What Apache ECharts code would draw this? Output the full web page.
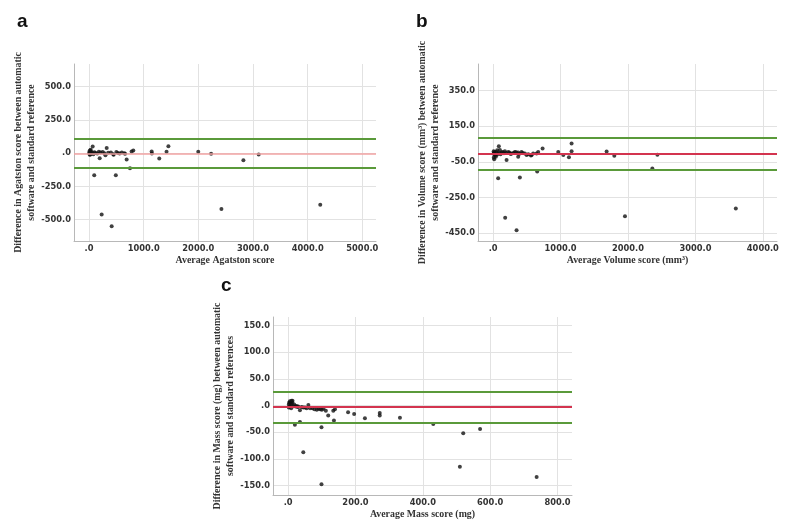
<!DOCTYPE html>
<html><head><meta charset="utf-8">
<script src="https://cdn.jsdelivr.net/npm/echarts@6/dist/echarts.min.js"></script>
<style>html,body{margin:0;padding:0;background:#fff}#c{width:800px;height:525px}</style>
</head><body><div id="c"></div>
<script>
// Panel a: Agatston
var agatstonAvg = [5,10,15,20,25,35,45,60,80,100,120,150,180,210,250,280,300,350,400,450,500,530,560,600,660,12,30,8,
  67,95,195,231,323,414,444,490,645,688,749,779,810,1146,1150,1285,1418,1452,1998,2234,2422,2824,3104,4230];
var agatstonDiff = [8,-5,20,3,-10,12,0,5,-8,6,2,-3,10,5,8,0,-15,3,5,-12,8,2,-3,5,-5,-12,25,0,
  50,-166,-38,-460,38,-550,-8,-166,0,-48,-113,12,20,12,-3,-40,10,52,10,-5,-419,-53,-10,-387];
var agatstonLines = {mean: -1, upper: 107, lower: -110};

// Panel b: Volume
var volumeAvg = [25,15,40,50,100,125,174,199,223,273,322,371,371,421,470,496,570,594,644,668,
  5,8,10,12,20,30,55,60,70,90,110,140,160,190,240,260,300,340,390,440,520,560,
  84,74,178,347,396,653,733,965,1040,1124,1163,1163,1683,1797,1955,2361,2436,3599];
var volumeDiff = [-12,-35,-22,6,16,3,10,-40,6,-3,6,3,-22,6,-3,-12,-12,-3,-3,6,
  -5,10,-25,0,5,-8,-10,15,-5,0,-8,5,-2,0,2,-6,0,4,-5,0,-8,-15,
  38,-142,-364,-435,-138,-105,25,6,-12,-24,53,10,8,-16,-356,-87,-10,-313];
var volumeLines = {mean: -7, upper: 83, lower: -93};

// Panel c: Mass
var massAvg = [2,4,6,8,10,12,15,18,22,25,28,30,40,45,50,55,65,72,78,85,90,95,100,105,2,5,10,60,9,
  3,13,20,35,35,45,99,99,112,119,134,136,139,178,196,228,272,272,332,431,510,520,570,738];
var massDiff = [2,-2,5,0,3,6,-1,2,-2,-1,-3,-2,-3,-4,-4,-5,-5,-5,-7,-8,-6,-7,-8,-6,-4,8,9,1,-5,
  5,9,-36,-31,-9,-88,-41,-148,-10,-19,-10,-28,-7,-12.5,-16,-24,-14,-19,-23,-35,-115,-52,-44,-134];
var massLines = {mean: -3.1, upper: 25.6, lower: -33.1};

var xTicksA = [0,1000,2000,3000,4000,5000];
var yTicksA = [-500,-250,0,250,500];
var xTicksB = [0,1000,2000,3000,4000];
var yTicksB = [-450,-250,-50,150,350];
var xTicksC = [0,200,400,600,800];
var yTicksC = [-150,-100,-50,0,50,100,150];

function zip(a,b){return a.map(function(v,i){return [v,b[i]];});}
function fmt(v){return v===0?'.0':v.toFixed(1);}

var labelFont = {fontFamily:'DejaVu Sans', fontWeight:'bold', fontSize:8.3, color:'#333'};
var nameFont = {fontFamily:'Liberation Serif', fontWeight:'bold', fontSize:9.9, color:'#333', lineHeight:12.5};

function xAxis(idx, min, max, ticks, name, gap){
  return {gridIndex: idx, type:'value', min:min, max:max,
    name:name, nameLocation:'middle', nameGap:gap, nameTextStyle:nameFont,
    axisLine:{show:true, onZero:false, lineStyle:{color:'#b8b8b8', width:1}},
    axisTick:{show:false, customValues:ticks},
    axisLabel:Object.assign({customValues:ticks, formatter:fmt, margin:4}, labelFont),
    splitLine:{show:true, lineStyle:{color:'#e2e2e2', width:1}}};
}
function yAxis(idx, min, max, ticks, name, gap){
  return {gridIndex: idx, type:'value', min:min, max:max,
    name:name, nameLocation:'middle', nameGap:gap, nameRotate:90, nameTextStyle:nameFont,
    axisLine:{show:true, onZero:false, lineStyle:{color:'#b8b8b8', width:1}},
    axisTick:{show:false, customValues:ticks},
    axisLabel:Object.assign({customValues:ticks, formatter:fmt, margin:3}, labelFont),
    splitLine:{show:true, lineStyle:{color:'#e2e2e2', width:1}}};
}
function series(idx, data, lines, meanColor, meanWidth){
  return {type:'scatter', xAxisIndex:idx, yAxisIndex:idx, data:data,
    symbolSize:4, itemStyle:{color:'#111'}, silent:true,
    markLine:{silent:true, symbol:'none', label:{show:false}, animation:false,
      data:[
        {yAxis:lines.upper, lineStyle:{color:'#5a9a3a', width:2, type:'solid'}},
        {yAxis:lines.lower, lineStyle:{color:'#5a9a3a', width:2, type:'solid'}},
        {yAxis:lines.mean, lineStyle:{color:meanColor, width:meanWidth, type:'solid'}}
      ]}};
}

var chart = echarts.init(document.getElementById('c'), null, {renderer:'canvas'});
chart.setOption({
  animation:false,
  backgroundColor:'#fff',
  grid:[
    {left:74, top:64, width:302, height:177},
    {left:478, top:64, width:299, height:177},
    {left:273, top:317, width:299, height:178}
  ],
  xAxis:[
    xAxis(0,-275,5250,xTicksA,'Average Agatston score',11),
    xAxis(1,-225,4210,xTicksB,'Average Volume score (mm³)',11),
    xAxis(2,-45,843,xTicksC,'Average Mass score (mg)',9)
  ],
  yAxis:[
    yAxis(0,-660,670,yTicksA,'Difference in Agatston score between automatic\nsoftware and standard reference',35),
    yAxis(1,-495,500,yTicksB,'Difference in Volume score (mm³) between automatic\nsoftware and standard reference',35),
    yAxis(2,-168,166,yTicksC,'Difference in Mass score (mg) between automatic\nsoftware and standard references',27)
  ],
  series:[
    series(0, zip(agatstonAvg, agatstonDiff), agatstonLines, '#f2a3a3', 1.5),
    series(1, zip(volumeAvg, volumeDiff), volumeLines, '#d3344f', 2),
    series(2, zip(massAvg, massDiff), massLines, '#d3344f', 2)
  ],
  graphic:[
    {type:'text', left:17, top:12, style:{text:'a', font:'bold 19px "Liberation Sans"', fill:'#111'}},
    {type:'text', left:416, top:12, style:{text:'b', font:'bold 19px "Liberation Sans"', fill:'#111'}},
    {type:'text', left:221, top:276, style:{text:'c', font:'bold 19px "Liberation Sans"', fill:'#111'}}
  ]
});
</script></body></html>
